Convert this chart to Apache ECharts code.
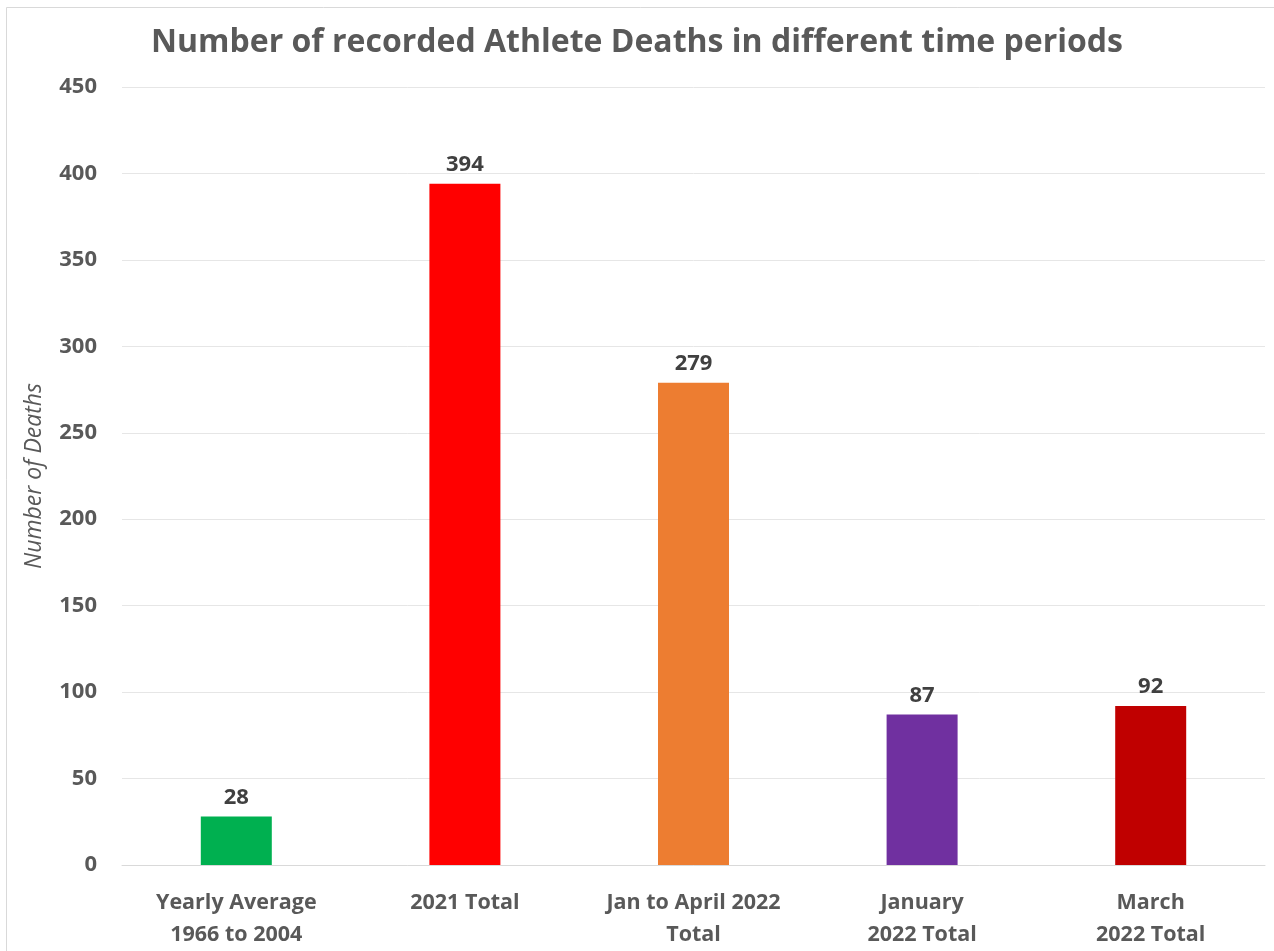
<!DOCTYPE html>
<html><head><meta charset="utf-8">
<script src="https://cdn.jsdelivr.net/npm/echarts@6/dist/echarts.min.js"></script>
<style>html,body{margin:0;padding:0;background:#fff}#c{width:1274px;height:951px}</style>
</head><body><div id="c"></div>
<script>
const categories = ["Yearly Average\n1966 to 2004", "2021 Total", "Jan to April 2022\nTotal", "January\n2022 Total", "March\n2022 Total"];
const values = [28, 394, 279, 87, 92];
const barColors = ["#00B050", "#FF0000", "#ED7D31", "#7030A0", "#C00000"];
const yTicks = {min: 0, max: 450, interval: 50};

const chart = echarts.init(document.getElementById('c'), null, {renderer: 'canvas'});
const font = '"Open Sans", sans-serif';
chart.setOption({
  animation: false,
  backgroundColor: '#fff',
  graphic: [{type: 'rect', shape: {x: 6.5, y: 7.5, width: 1300, height: 1000}, style: {fill: 'none', stroke: '#d9d9d9', lineWidth: 1}}],
  title: {text: 'Number of recorded Athlete Deaths in different time periods', left: 'center', top: 22,
    textStyle: {fontFamily: font, fontSize: 32, fontWeight: 'bold', color: '#595959'}},
  grid: {left: 122, right: 9, top: 87, bottom: 83},
  xAxis: {type: 'category', data: categories,
    axisLine: {lineStyle: {color: '#d9d9d9', width: 1}}, axisTick: {show: false},
    axisLabel: {fontFamily: font, fontSize: 21.5, fontWeight: 'bold', color: '#595959', lineHeight: 32, margin: 22, interval: 0}},
  yAxis: {type: 'value', min: yTicks.min, max: yTicks.max, interval: yTicks.interval,
    name: 'Number of Deaths', nameLocation: 'middle', nameGap: 76, nameRotate: 90,
    nameTextStyle: {fontFamily: font, fontSize: 23, fontStyle: 'italic', color: '#595959'},
    axisLine: {show: false}, axisTick: {show: false},
    splitLine: {lineStyle: {color: '#e6e6e6', width: 1}},
    axisLabel: {fontFamily: font, fontSize: 22, fontWeight: 'bold', color: '#595959', margin: 25}},
  series: [{type: 'bar', barWidth: 71,
    data: values.map((v, i) => ({value: v, itemStyle: {color: barColors[i]}})),
    label: {show: true, position: 'top', distance: 8, fontFamily: font, fontSize: 22, fontWeight: 'bold', color: '#404040'}}]
});
</script></body></html>
